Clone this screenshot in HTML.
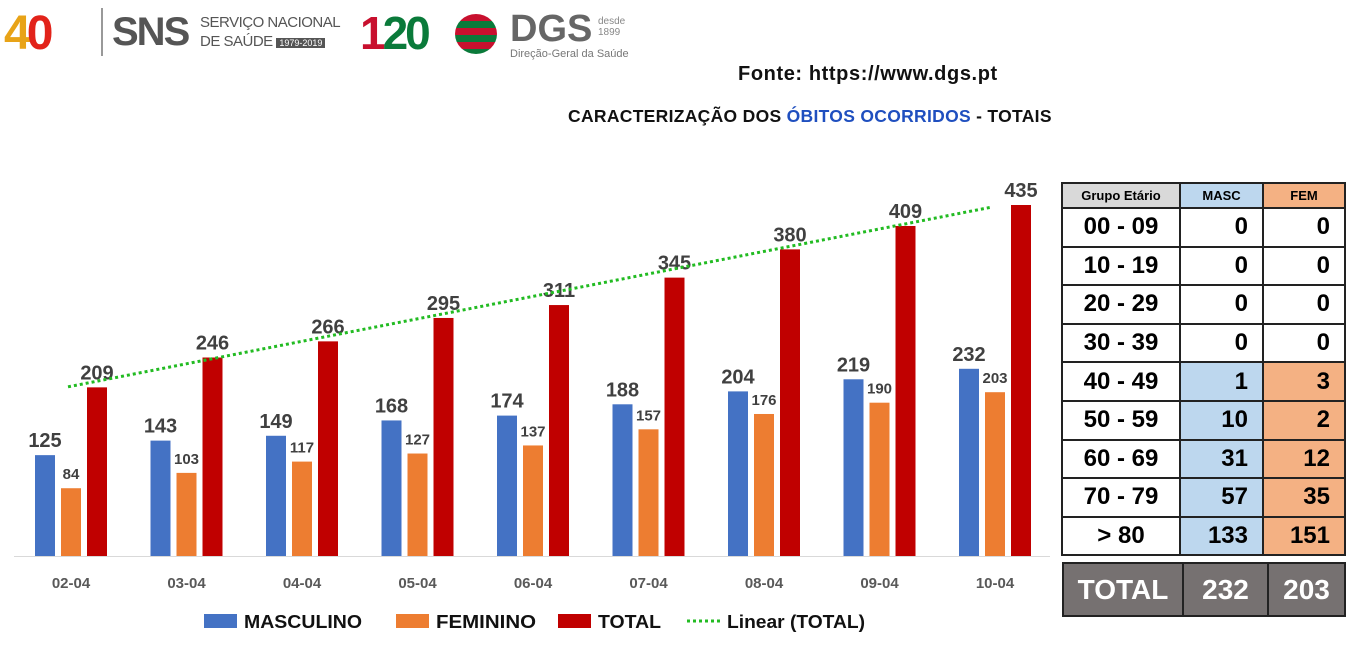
<!DOCTYPE html>
<html><head><meta charset="utf-8"><style>
body{margin:0;width:1357px;height:657px;background:#fff;overflow:hidden;position:relative;font-family:"Liberation Sans",sans-serif}
.abs{position:absolute;white-space:nowrap}
table{border-collapse:collapse;position:absolute;font-family:"Liberation Sans",sans-serif;font-weight:bold}
td{border:2px solid #222;padding:0}
</style></head><body>
<div class="abs" style="left:4px;top:4px;width:330px;height:56px">
 <div class="abs" style="left:0;top:2px;font-size:48px;font-weight:bold;color:#e8a317;letter-spacing:-4px">4<span style="color:#e2231a">0</span></div>
 <div class="abs" style="left:97px;top:4px;width:2px;height:48px;background:#999"></div>
 <div class="abs" style="left:108px;top:6px;font-size:40px;font-weight:bold;color:#555;letter-spacing:-2px">SNS</div>
 <div class="abs" style="left:196px;top:9px;font-size:15px;color:#555;line-height:19px;letter-spacing:-0.5px">SERVIÇO NACIONAL<br>DE SAÚDE <span style="background:#555;color:#fff;font-size:9px;padding:0 3px;letter-spacing:0">1979-2019</span></div>
</div>
<div class="abs" style="left:360px;top:4px;width:270px;height:56px">
 <div class="abs" style="left:0;top:2px;font-size:46px;font-weight:bold;color:#0a7a3a;letter-spacing:-3px"><span style="color:#c8102e">1</span>20</div>
 <div class="abs" style="left:95px;top:10px;width:42px;height:40px;border-radius:50%;background:repeating-linear-gradient(#c8102e 0 7px,#0a7a3a 7px 14px)"></div>
 <div class="abs" style="left:150px;top:4px;font-size:38px;font-weight:bold;color:#666">DGS</div>
 <div class="abs" style="left:238px;top:12px;font-size:10px;color:#888;line-height:11px">desde<br>1899</div>
 <div class="abs" style="left:150px;top:44px;font-size:11px;color:#777">Direção-Geral da Saúde</div>
</div>
<div class="abs" style="left:738px;top:63px;font-size:20px;font-weight:bold;color:#111;letter-spacing:0.6px">Fonte: https://www.dgs.pt</div>
<div class="abs" style="left:568px;top:106px;font-size:17.5px;font-weight:bold;color:#111;letter-spacing:0.3px">CARACTERIZAÇÃO DOS <span style="color:#1f4fbf">ÓBITOS OCORRIDOS</span> - TOTAIS</div>

<svg class="abs" style="left:0;top:0" width="1050" height="657" id="chart"></svg>

<table style="left:1061px;top:182px;width:285px">
<tbody id="tb"></tbody></table>
<table style="left:1062px;top:562px;width:284px;height:55px;background:#767171;color:#fff;font-size:28px">
<tr><td style="width:118px;text-align:center">TOTAL</td><td style="width:83px;text-align:center">232</td><td style="text-align:center">203</td></tr></table>

<script>
const categories=["02-04","03-04","04-04","05-04","06-04","07-04","08-04","09-04","10-04"];
const masc=[125,143,149,168,174,188,204,219,232];
const fem=[84,103,117,127,137,157,176,190,203];
const total=[209,246,266,295,311,345,380,409,435];
const ageGroups=["00 - 09","10 - 19","20 - 29","30 - 39","40 - 49","50 - 59","60 - 69","70 - 79","> 80"];
const ageMasc=[0,0,0,0,1,10,31,57,133];
const ageFem=[0,0,0,0,3,2,12,35,151];

const NS="http://www.w3.org/2000/svg";
const svg=document.getElementById('chart');
const base=556, k=351/435;
const y=v=>base-v*k;
const xc=i=>71+i*115.5;
function mk(t,a,txt){const e=document.createElementNS(NS,t);for(const p in a)e.setAttribute(p,a[p]);if(txt!=null)e.textContent=txt;svg.appendChild(e);return e;}
const ax=mk('line',{x1:14,x2:1050,y1:base+0.5,y2:base+0.5,stroke:'#d9d9d9','stroke-width':1});

const series=[[masc,-36,'#4472c4',20,'masc'],[fem,-10,'#ed7d31',15,'fem'],[total,16,'#c00000',20,'total']];
categories.forEach((c,i)=>{
  series.forEach(([arr,off,col,fs,nm])=>{
    const v=arr[i];
    const r=mk('rect',{x:xc(i)+off,y:y(v),width:20,height:v*k,fill:col});
    
    
    const t=mk('text',{x:xc(i)+off+10,y:y(v)-(nm=='fem'?9:8),'text-anchor':'middle','font-size':fs,'font-weight':'bold',fill:'#404040'},v);
    
    
  });
  const l=mk('text',{x:xc(i),y:588,'text-anchor':'middle','font-size':15,'font-weight':'bold',fill:'#595959'},c);
  
  
});
const n=total.length;let mx=(n-1)/2,my=total.reduce((a,b)=>a+b,0)/n,sxy=0,sxx=0;
total.forEach((v,i)=>{sxy+=(i-mx)*(v-my);sxx+=(i-mx)*(i-mx);});
const sl=sxy/sxx,ic=my-sl*mx;
const tl=mk('line',{x1:xc(0)-3,y1:y(ic-3/115.5*sl),x2:xc(n-1)-5,y2:y(ic+sl*(n-1-5/115.5)),stroke:'#22bb22','stroke-width':3,'stroke-dasharray':'3 3'});


const leg=[['rect','#4472c4','MASCULINO',204,118],['rect','#ed7d31','FEMININO',396,100],['rect','#c00000','TOTAL',558,63],['line','#22bb22','Linear (TOTAL)',687,138]];
leg.forEach(([tp,col,lab,x0,w])=>{
  let m;
  if(tp=='rect')m=mk('rect',{x:x0,y:614,width:33,height:14,fill:col});
  else m=mk('line',{x1:x0,x2:x0+33,y1:621,y2:621,stroke:col,'stroke-width':3,'stroke-dasharray':'3 3'});
  
  
  const t=mk('text',{x:x0+40,y:628,'font-size':18,'font-weight':'bold',fill:'#111',textLength:w,lengthAdjust:'spacingAndGlyphs'},lab);
  
  
});
const tb=document.getElementById('tb');
const h=document.createElement('tr');h.style.height='25px';
h.innerHTML='<td style="width:116px;background:#d9d9d9;text-align:center;font-size:13px">Grupo Etário</td><td style="width:81px;background:#bdd7ee;text-align:center;font-size:13px">MASC</td><td style="background:#f4b183;text-align:center;font-size:13px">FEM</td>';


tb.appendChild(h);
ageGroups.forEach((g,i)=>{
  const r=document.createElement('tr');r.style.height='38.6px';r.style.fontSize='24px';
  const hi=ageMasc[i]>0||ageFem[i]>0;
  r.innerHTML='<td style="text-align:center">'+g+'</td><td style="text-align:right;padding-right:14px;background:'+(hi?'#bdd7ee':'#fff')+'">'+ageMasc[i]+'</td><td style="text-align:right;padding-right:14px;background:'+(hi?'#f4b183':'#fff')+'">'+ageFem[i]+'</td>';
  
  
  tb.appendChild(r);
});
</script>
</body></html>
